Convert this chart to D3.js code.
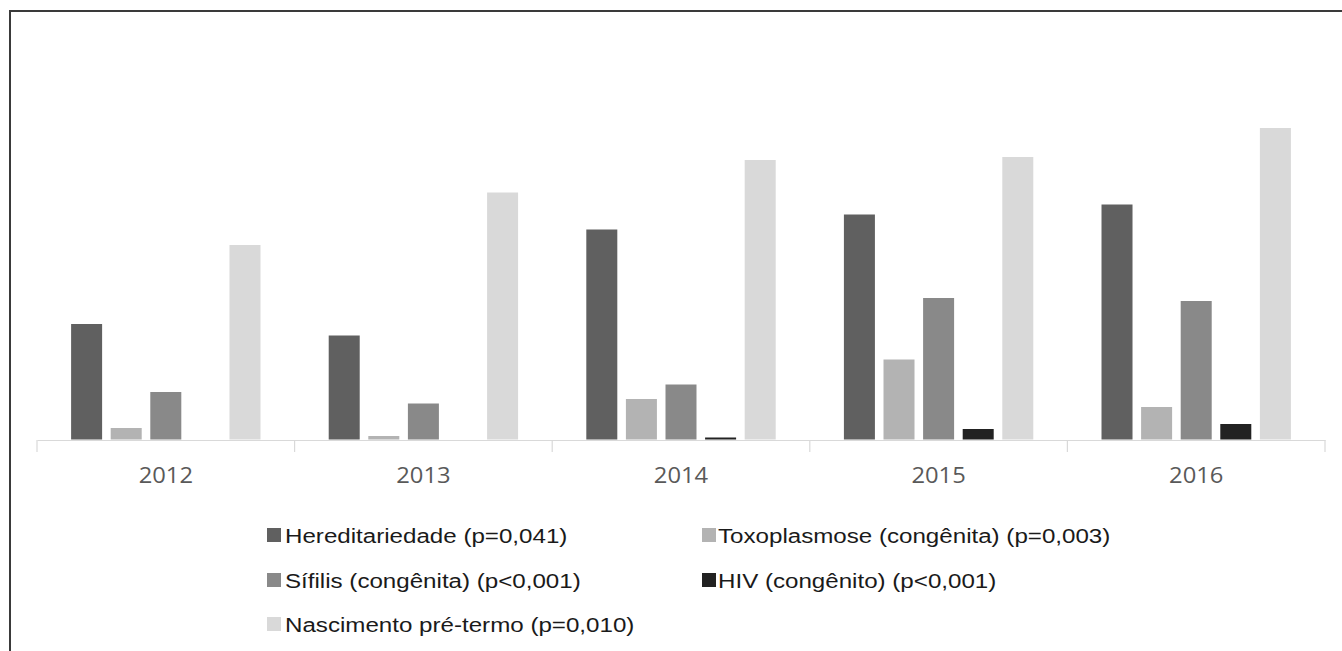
<!DOCTYPE html>
<html>
<head>
<meta charset="utf-8">
<script src="https://cdn.jsdelivr.net/npm/d3@7/dist/d3.min.js"></script>
<style>
  html, body { margin: 0; padding: 0; background: #fff; }
  svg { display: block; }
</style>
</head>
<body>
<svg id="chart" width="1342" height="651"></svg>
<script>
// ---- Data (arbitrary units) ----
const years = ["2012", "2013", "2014", "2015", "2016"];
const seriesNames = [
  "Hereditariedade (p=0,041)",
  "Toxoplasmose (congênita) (p=0,003)",
  "Sífilis (congênita) (p<0,001)",
  "HIV (congênito) (p<0,001)",
  "Nascimento pré-termo (p=0,010)"
];
const hereditariedade = [115.5, 104, 210, 225, 235];
const toxoplasmose    = [11.5, 3.5, 40.5, 80, 32.5];
const sifilis         = [47.5, 36, 55, 141.5, 138.5];
const hiv             = [0, 0, 2, 10.5, 15.5];
const preTermo        = [194.5, 247, 279.5, 282.5, 311.5];
const seriesValues = [hereditariedade, toxoplasmose, sifilis, hiv, preTermo];
const seriesColors = ["#606060", "#b3b3b3", "#898989", "#222222", "#d9d9d9"];

// ---- Layout ----
const svg = d3.select("#chart");
const left = 37, right = 1325, baseline = 439.5;

// frame (cropped on right/bottom)
svg.append("line").attr("x1", 9).attr("x2", 1342).attr("y1", 11).attr("y2", 11)
  .attr("stroke", "#3a3a3a").attr("stroke-width", 2);
svg.append("line").attr("x1", 10).attr("x2", 10).attr("y1", 10).attr("y2", 651)
  .attr("stroke", "#3a3a3a").attr("stroke-width", 2);

const x0 = d3.scaleBand().domain(years).range([left, right]).padding(0);
const bw = x0.bandwidth();
const x1 = d3.scaleBand().domain(d3.range(seriesNames.length))
  .range([bw * 0.1324, bw * 0.8676]).paddingInner(0.217).paddingOuter(0);
const y = d3.scaleLinear().domain([0, 350]).range([baseline, baseline - 350]);

// bars
const g = svg.append("g");
years.forEach((yr, i) => {
  const grp = g.append("g").attr("transform", `translate(${x0(yr)},0)`);
  seriesValues.forEach((vals, s) => {
    const v = vals[i];
    if (v <= 0) return;
    grp.append("rect")
      .attr("x", x1(s))
      .attr("width", x1.bandwidth())
      .attr("y", y(v))
      .attr("height", y(0) - y(v))
      .attr("fill", seriesColors[s]);
  });
});

// axis
const axis = svg.append("g").attr("transform", `translate(0,${baseline + 0.5})`)
  .call(d3.axisBottom(x0).tickSize(0).tickPadding(0));
axis.select(".domain").attr("stroke", "#d9d9d9").attr("stroke-width", 1.2);
axis.selectAll(".tick text").remove();
// category boundary ticks
const bounds = years.map(yr => x0(yr)).concat([right]);
axis.selectAll("line.bound").data(bounds).enter().append("line")
  .attr("class", "bound")
  .attr("x1", d => d).attr("x2", d => d).attr("y1", 0).attr("y2", 12)
  .attr("stroke", "#d9d9d9").attr("stroke-width", 1.2);
// tick labels
axis.selectAll("text.lbl").data(years).enter().append("text")
  .attr("class", "lbl")
  .attr("transform", d => `translate(${x0(d) + bw / 2},${483 - baseline - 0.5}) scale(1.08,1)`)
  .attr("text-anchor", "middle")
  .attr("font-family", "'Open Sans', 'DejaVu Sans', sans-serif")
  .attr("font-size", 22)
  .attr("fill", "#595959")
  .text(d => d);

// legend
const legendPos = [
  { sx: 267, tx: 285, cy: 535 },
  { sx: 702, tx: 718, cy: 535 },
  { sx: 267, tx: 285, cy: 580 },
  { sx: 702, tx: 718, cy: 580 },
  { sx: 267, tx: 285, cy: 624 }
];
const leg = svg.append("g");
seriesNames.forEach((name, s) => {
  const p = legendPos[s];
  leg.append("rect").attr("x", p.sx).attr("y", p.cy - 7).attr("width", 14).attr("height", 14)
    .attr("fill", seriesColors[s]);
  leg.append("text")
    .attr("transform", `translate(${p.tx},${p.cy + 7.5}) scale(1.15,1)`)
    .attr("font-family", "'Liberation Sans', Arial, sans-serif")
    .attr("font-size", 21)
    .attr("fill", "#1a1a1a")
    .text(name);
});
</script>
</body>
</html>
